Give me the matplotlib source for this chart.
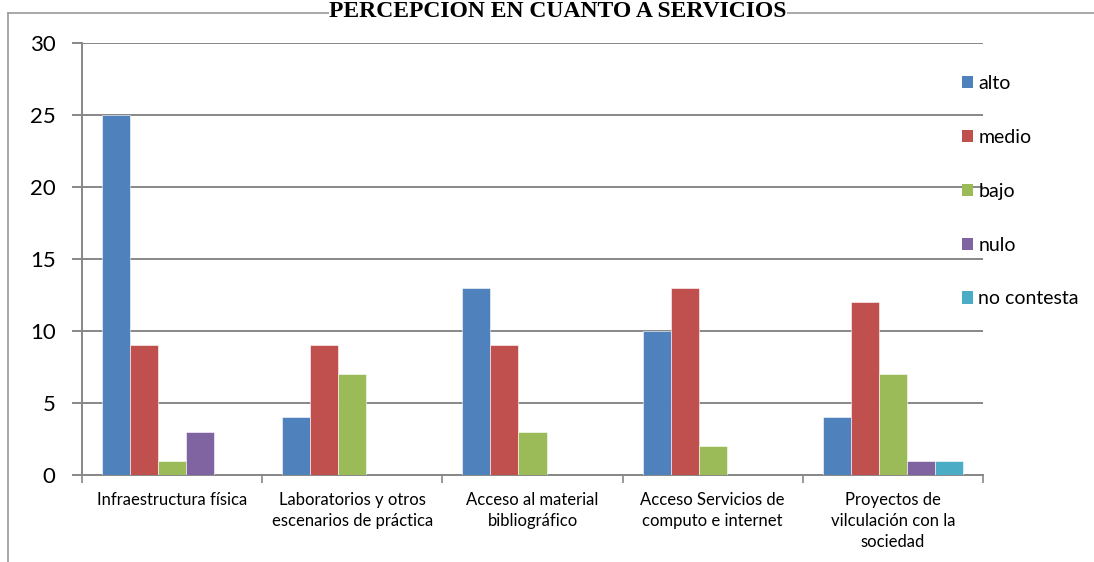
import numpy as np
import matplotlib
matplotlib.use("Agg")
import matplotlib.pyplot as plt
from matplotlib.patches import Patch
from matplotlib.lines import Line2D

categories = [
    "Infraestructura física",
    "Laboratorios y otros\nescenarios de práctica",
    "Acceso al material\nbibliográfico",
    "Acceso Servicios de\ncomputo e internet",
    "Proyectos de\nvilculación con la\nsociedad",
]
series_names = ["alto", "medio", "bajo", "nulo", "no contesta"]
alto = [25, 4, 13, 10, 4]
medio = [9, 9, 9, 13, 12]
bajo = [1, 7, 3, 2, 7]
nulo = [3, 0, 0, 0, 1]
no_contesta = [0, 0, 0, 0, 1]
series = [alto, medio, bajo, nulo, no_contesta]
colors = ["#4F81BD", "#C0504D", "#9BBB59", "#8064A2", "#4BACC6"]

plt.rcParams["font.family"] = ["Lato", "DejaVu Sans"]

fig = plt.figure(figsize=(10.94, 5.62), dpi=100)
ax = fig.add_axes([82 / 1094, 1 - 475 / 562, (983 - 82) / 1094, (475 - 43) / 562])

grid_c = "#878787"
x = np.arange(len(categories)) + 0.5
w = 28 / 180
for i, (vals, col) in enumerate(zip(series, colors)):
    off = (i - 2) * w
    ax.bar(x + off, vals, width=w, color=col, edgecolor="white",
           linewidth=0.4, zorder=3)

ax.set_xlim(0, len(categories))
ax.set_ylim(0, 30)
ax.set_yticks(range(0, 31, 5))
ax.yaxis.grid(True, color=grid_c, linewidth=1.4, zorder=0)
ax.set_xticks(range(0, len(categories) + 1))
ax.set_xticklabels([])
ax.set_xticks(x, minor=True)
ax.set_xticklabels(categories, minor=True, fontsize=12, linespacing=1.38)
ax.tick_params(axis="x", which="minor", length=0, pad=12)
ax.tick_params(axis="x", which="major", length=6, width=1.2, color=grid_c)
ax.tick_params(axis="y", length=7, width=1.4, color=grid_c, labelsize=16, pad=12)

for s in ["top", "right"]:
    ax.spines[s].set_visible(False)
for s in ["left", "bottom"]:
    ax.spines[s].set_color(grid_c)
    ax.spines[s].set_linewidth(1.4)

# outer chart frame (partly cropped)
fig.add_artist(Line2D([8 / 1094, 1], [1 - 13 / 562, 1 - 13 / 562],
                      transform=fig.transFigure, color="#9a9a9a", linewidth=1.2))
fig.add_artist(Line2D([8 / 1094, 8 / 1094], [0, 1 - 13 / 562],
                      transform=fig.transFigure, color="#9a9a9a", linewidth=1.2))

fig.text(558 / 1094, 1 - 1 / 562, "PERCEPCION EN CUANTO A SERVICIOS",
         ha="center", va="top", fontsize=17, fontweight="bold",
         family=["Liberation Serif", "DejaVu Serif"],
         bbox=dict(facecolor="white", edgecolor="none", pad=0), zorder=5)

handles = [Patch(facecolor=c, edgecolor="none") for c in colors]
leg = fig.legend(handles, series_names, loc="upper left",
                 bbox_to_anchor=(952 / 1094, 1 - 65 / 562), frameon=False,
                 fontsize=14, handlelength=0.6, handleheight=0.6,
                 handletextpad=0.25, labelspacing=1.9, borderpad=0)
leg.set_zorder(5)

fig.savefig("out.png", dpi=100)
